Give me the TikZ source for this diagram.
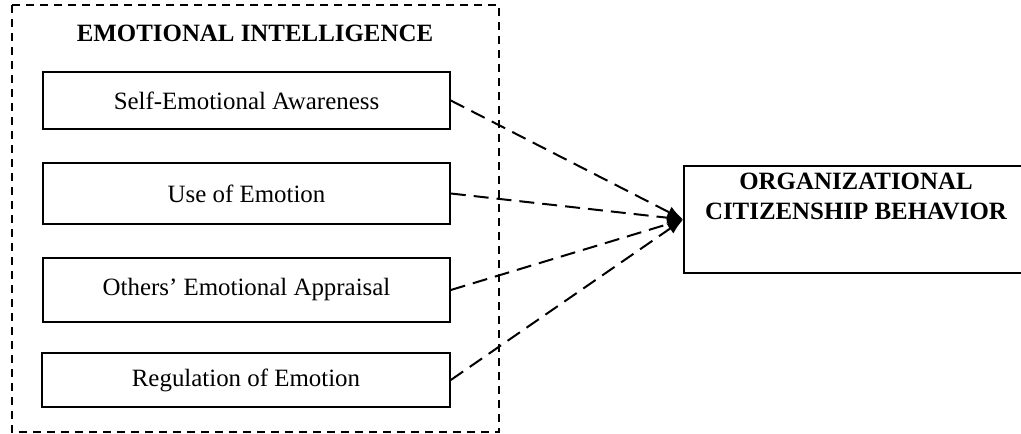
\documentclass[tikz,border=0pt]{standalone}
\usepackage{fontspec}
\setmainfont{Liberation Serif}
\usetikzlibrary{arrows.meta}
\tikzset{
  dimbox/.style={draw, line width=1.6pt, minimum width=407pt, inner sep=0pt, font=\fontsize{24.9}{28}\selectfont},
  outerbox/.style={draw, line width=1.5pt, dash pattern=on 8pt off 6pt},
  link/.style={line width=2pt, dash pattern=on 15pt off 8pt, -{Latex[length=16pt,width=12pt]}},
}
\begin{document}
\begin{tikzpicture}[x=1pt,y=-1pt]
\useasboundingbox (0,0) rectangle (1021,434);
\clip (0,0) rectangle (1021,434);
\draw[outerbox] (12,5) rectangle (499,432);
\node[font=\fontsize{24.9}{28}\selectfont\bfseries] (title) at (255,33) {EMOTIONAL INTELLIGENCE};
\node[dimbox, minimum height=57pt] (b1) at (246.5,100.5) {Self-Emotional Awareness};
\node[dimbox, minimum height=61pt] (b2) at (246.5,193.5) {Use of Emotion};
\node[dimbox, minimum height=64pt] (b3) at (246.5,290) {Others’ Emotional Appraisal};
\node[dimbox, minimum height=54pt, minimum width=408pt] (b4) at (246,380) {Regulation of Emotion};
\node[draw, line width=1.6pt, minimum width=343pt, minimum height=107pt] (ocb) at (855.5,219.5) {};
\node[font=\fontsize{24.9}{30}\selectfont\bfseries, align=center, anchor=north, inner sep=0pt] (ocbt) at (856,173) {ORGANIZATIONAL\\CITIZENSHIP BEHAVIOR};
\coordinate (tip) at (ocb.west);
\draw[link] (b1.east) -- (tip);
\draw[link] (b2.east) -- (tip);
\draw[link] (b3.east) -- (tip);
\draw[link] (b4.east) -- (tip);
\end{tikzpicture}
\end{document}
